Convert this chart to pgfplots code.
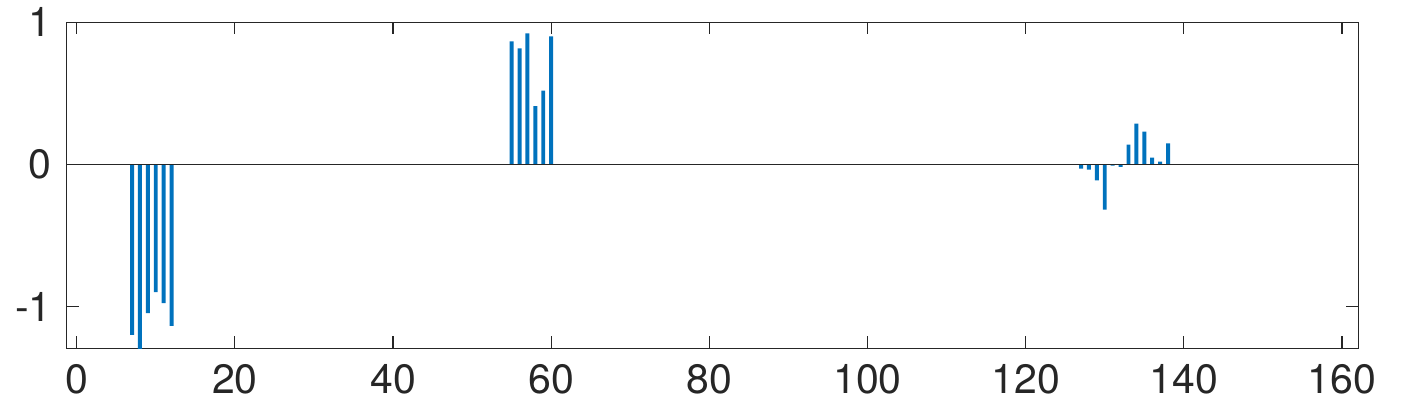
\documentclass[border=0pt]{standalone}
\usepackage{pgfplots}
\pgfplotsset{compat=1.18}
\usepackage{fontspec}
\setmainfont{TeX Gyre Heros}
\definecolor{mblue}{rgb}{0,0.447,0.741}
\definecolor{mgray}{rgb}{0.15,0.15,0.15}
\begin{document}
\begin{tikzpicture}
\begin{axis}[
  scale only axis,
  width=645.8bp, height=163bp,
  xmin=-1.26, xmax=162.06,
  ymin=-1.294, ymax=1.0,
  xtick={0,20,...,160},
  ytick={-1,0,1},
  tick align=inside,
  tick pos=both,
  major tick length=6bp,
  axis line style={mgray, line width=0.6bp},
  tick style={mgray, line width=0.6bp},
  every tick label/.append style={font=\fontsize{20.5bp}{23bp}\selectfont, text=mgray},
  /pgf/number format/assume math mode=true,
  yticklabel style={xshift=-4bp},
  xticklabel style={yshift=-4.5bp},
  clip=true,
]
\addplot[ybar, bar width=0.5, fill=mblue, draw=none] coordinates {
(7,-1.20) (8,-1.33) (9,-1.047) (10,-0.898) (11,-0.976) (12,-1.136)
(55,0.866) (56,0.816) (57,0.922) (58,0.411) (59,0.52) (60,0.901)
(127,-0.03) (128,-0.037) (129,-0.113) (130,-0.318) (131,-0.008) (132,-0.017)
(133,0.139) (134,0.287) (135,0.231) (136,0.047) (137,0.019) (138,0.148)
};
\addplot[mgray, line width=0.6bp] coordinates {(-1.26,0) (162.06,0)};
\end{axis}
\pgfresetboundingbox
\path ([xshift=-33.35bp,yshift=-30.35bp]current axis.south west) rectangle ([xshift=21.85bp,yshift=11.15bp]current axis.north east);
\end{tikzpicture}
\end{document}
